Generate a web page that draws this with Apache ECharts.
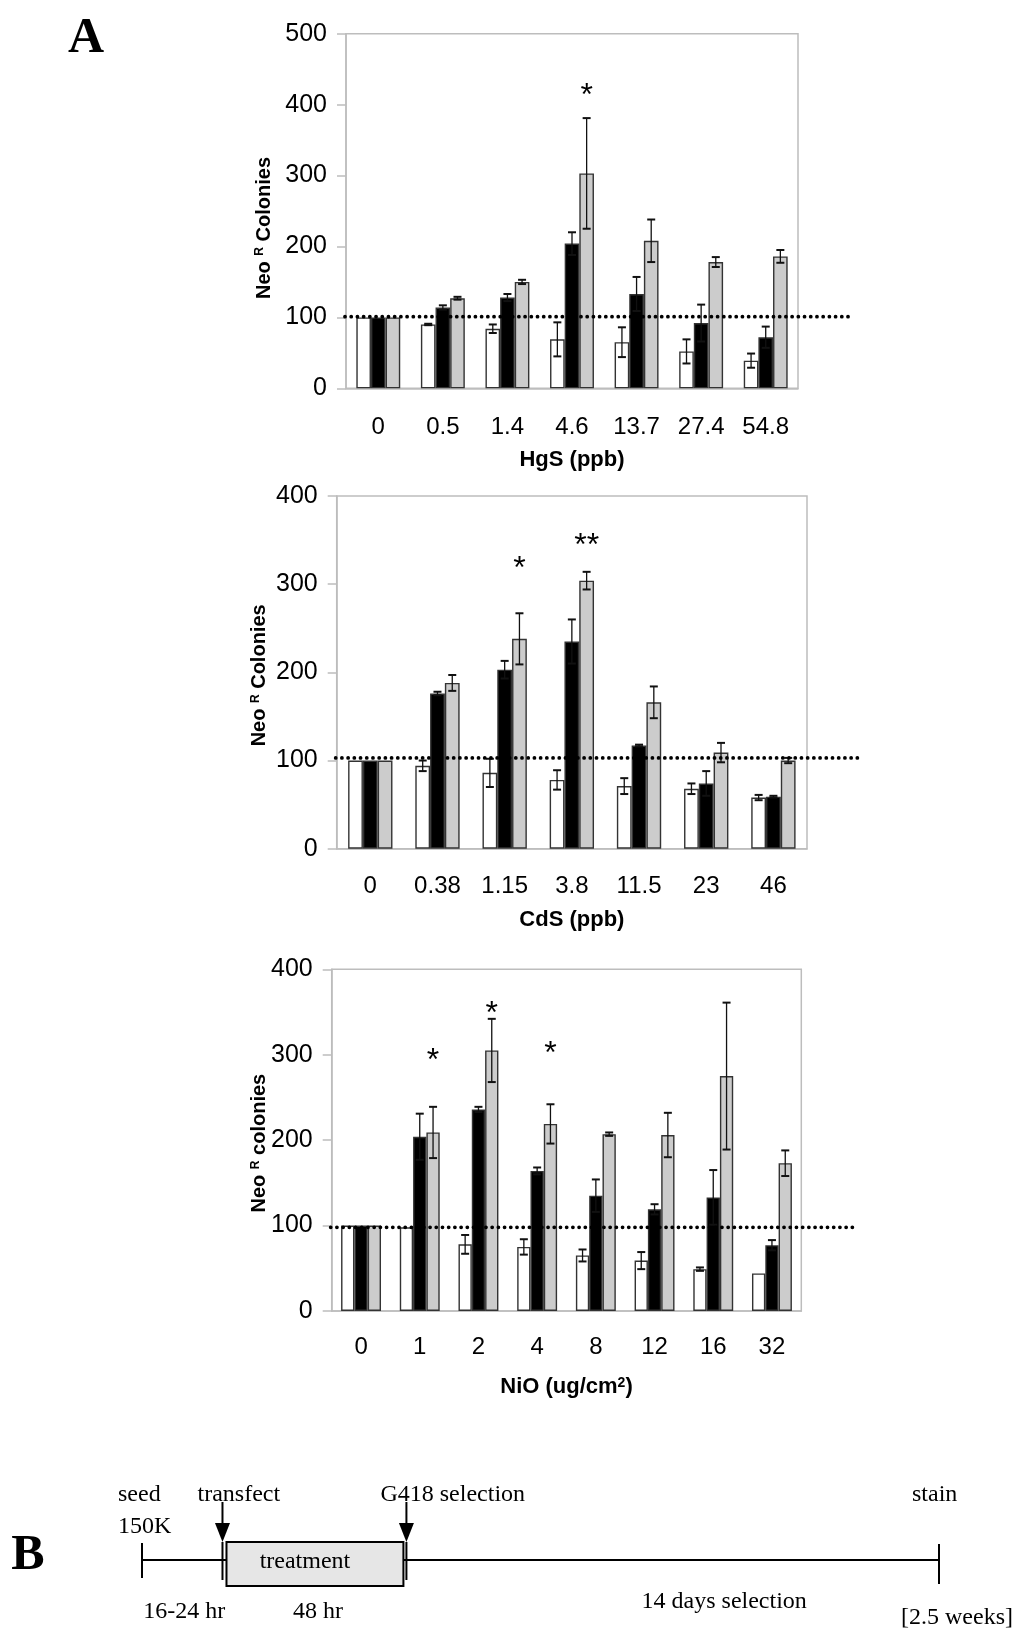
<!DOCTYPE html>
<html>
<head>
<meta charset="utf-8">
<title>NeoR colonies</title>
<script src="https://cdn.jsdelivr.net/npm/echarts@6.0.0/dist/echarts.min.js"></script>
<style>
  html, body { margin: 0; padding: 0; background: #fff; }
  #main { width: 1024px; height: 1646px; }
</style>
</head>
<body>
<div id="main"></div>
<script>
// HgS panel
var hgsCats = ['0', '0.5', '1.4', '4.6', '13.7', '27.4', '54.8'];
var hgsWhite = [100, 90, 84, 69, 65, 52, 39];
var hgsWhiteErr = [0, 1, 6, 24, 21, 17, 10];
var hgsBlack = [100, 114, 128, 204, 133, 92, 72];
var hgsBlackErr = [0, 3, 5, 16, 24, 26, 15];
var hgsGray = [100, 127, 150, 303, 208, 178, 186];
var hgsGrayErr = [0, 2, 3, 78, 30, 7, 9];
var hgsRef = 101;
var hgsStars = [[3, 420, 1]];          // [category, height, number of *]
var hgsTicks = [0, 100, 200, 300, 400, 500];

// CdS panel
var cdsCats = ['0', '0.38', '1.15', '3.8', '11.5', '23', '46'];
var cdsWhite = [100, 94, 86, 78, 71, 68, 58];
var cdsWhiteErr = [0, 6, 16, 11, 9, 6, 3];
var cdsBlack = [100, 176, 203, 235, 117, 74, 59];
var cdsBlackErr = [0, 2, 10, 25, 1, 14, 1];
var cdsGray = [100, 188, 238, 304, 166, 109, 100];
var cdsGrayErr = [0, 9, 29, 10, 18, 11, 3];
var cdsRef = 103;
var cdsStars = [[2, 324, 1], [3, 350, 2]];
var cdsTicks = [0, 100, 200, 300, 400];

// NiO panel
var nioCats = ['0', '1', '2', '4', '8', '12', '16', '32'];
var nioWhite = [100, 98, 78, 75, 65, 59, 49, 44];
var nioWhiteErr = [0, 0, 11, 9, 7, 10, 2, 0];
var nioBlack = [100, 204, 236, 164, 135, 119, 133, 77];
var nioBlackErr = [0, 27, 3, 4, 19, 6, 32, 6];
var nioGray = [100, 209, 305, 219, 207, 206, 275, 173];
var nioGrayErr = [0, 30, 37, 23, 2, 26, 86, 15];
var nioRef = 98;
var nioStars = [[1, 300, 1], [2, 355, 1], [3, 308, 1]];
var nioTicks = [0, 100, 200, 300, 400];

// timeline (panel B), positions in % of the drawn line
var timelineStops = [0, 10.6, 32.8, 100];
var stopLabels = ['seed', 'transfect', 'G418 selection', 'stain'];
var stepLabels = ['16-24 hr', '48 hr', '14 days selection'];
var seedCount = '150K';
var totalTime = '[2.5 weeks]';


var SANS = '"Liberation Sans", Arial, sans-serif';
var SERIF = '"Liberation Serif", "Times New Roman", serif';
var GRAY = '#bdbdbd';

var panels = [
    { cats: hgsCats, vals: [hgsWhite, hgsBlack, hgsGray], errs: [hgsWhiteErr, hgsBlackErr, hgsGrayErr],
      ref: hgsRef, stars: hgsStars, ticks: hgsTicks,
      grid: { left: 346, top: 33.7, width: 452, height: 354.6 }, gap: 0.32,
      xName: 'HgS (ppb)', yName: 'Neo {sup|R} Colonies',
      yGap: 72, yShift: 34, xGap: 61, labelMargin: 27 },
    { cats: cdsCats, vals: [cdsWhite, cdsBlack, cdsGray], errs: [cdsWhiteErr, cdsBlackErr, cdsGrayErr],
      ref: cdsRef, stars: cdsStars, ticks: cdsTicks,
      grid: { left: 336.7, top: 496, width: 470.3, height: 352.7 }, gap: 0.34,
      xName: 'CdS (ppb)', yName: 'Neo {sup|R} Colonies',
      yGap: 67, yShift: 6, xGap: 60, labelMargin: 26 },
    { cats: nioCats, vals: [nioWhite, nioBlack, nioGray], errs: [nioWhiteErr, nioBlackErr, nioGrayErr],
      ref: nioRef, stars: nioStars, ticks: nioTicks,
      grid: { left: 331.7, top: 969.3, width: 469.6, height: 341.7 }, gap: 0.32,
      xName: 'NiO (ug/cm{sup|2})', yName: 'Neo {sup|R} colonies',
      yGap: 62, yShift: 6, xGap: 65, labelMargin: 24 }
];

var barColors = ['#ffffff', '#000000', '#cccccc'];

// error bars: one item per bar -> [category, value, error, bar index]
function errorBars(gap) {
    return function (params, api) {
        var cat = api.value(0), v = api.value(1), e = api.value(2), k = api.value(3);
        if (!(e > 0)) return null;
        var band = api.size([1, 0])[0];
        var w = band * (1 - gap) / 3;
        var x = api.coord([cat, v])[0] + (k - 1) * w;
        var yTop = api.coord([cat, v + e])[1];
        var yBot = api.coord([cat, v - e])[1];
        var st = { stroke: '#111', lineWidth: 1.3 };
        var cap = { stroke: '#111', lineWidth: 2 };
        return {
            type: 'group',
            children: [
                { type: 'line', shape: { x1: x, y1: yTop, x2: x, y2: yBot }, style: st },
                { type: 'line', shape: { x1: x - 4, y1: yTop, x2: x + 4, y2: yTop }, style: cap },
                { type: 'line', shape: { x1: x - 4, y1: yBot, x2: x + 4, y2: yBot }, style: cap }
            ]
        };
    };
}

// dotted control line, runs a bit past the plot on the right
function refLine(params, api) {
    var cs = params.coordSys;
    var y = api.coord([0, api.value(1)])[1];
    return {
        type: 'line',
        shape: { x1: cs.x - 1, y1: y, x2: cs.x + cs.width + 52, y2: y },
        style: { stroke: '#000', lineWidth: 3.8, lineDash: [0.01, 6.2], lineCap: 'round' }
    };
}

// significance stars above the grey bar
function starMarks(gap) {
    return function (params, api) {
        var band = api.size([1, 0])[0];
        var w = band * (1 - gap) / 3;
        var pt = api.coord([api.value(0), api.value(1)]);
        var n = api.value(2);
        return {
            type: 'text',
            x: pt[0] + w,
            y: pt[1] + 6,
            style: {
                text: new Array(n + 1).join('*'),
                fontSize: 32, fontFamily: SANS, fill: '#000',
                align: 'center', verticalAlign: 'middle'
            }
        };
    };
}

function timeline(params, api) {
    var L = api.coord([0, 0.5])[1];
    var xs = timelineStops.map(function (s) { return api.coord([s, 0.5])[0]; });
    var seed = xs[0], tf = xs[1], g418 = xs[2], stain = xs[3];
    var ln = { stroke: '#000', lineWidth: 2 };
    var txt = function (t, x, y, align) {
        return { type: 'text', x: x, y: y,
            style: { text: t, fontSize: 24, fontFamily: SERIF, fill: '#000', align: align || 'left', verticalAlign: 'middle' } };
    };
    var arrow = function (x) {
        return [
            { type: 'line', shape: { x1: x, y1: L - 58, x2: x, y2: L - 36 }, style: ln },
            { type: 'polygon', shape: { points: [[x - 7.5, L - 37], [x + 7.5, L - 37], [x, L - 18]] }, style: { fill: '#000' } }
        ];
    };
    var children = [
        { type: 'line', shape: { x1: seed, y1: L, x2: stain, y2: L }, style: ln },
        { type: 'line', shape: { x1: seed, y1: L - 17, x2: seed, y2: L + 18 }, style: ln },
        { type: 'line', shape: { x1: stain, y1: L - 16, x2: stain, y2: L + 24 }, style: ln },
        { type: 'rect', shape: { x: tf, y: L - 18, width: g418 - tf, height: 44 },
          style: { fill: '#e6e6e6', stroke: '#000', lineWidth: 2 } },
        { type: 'line', shape: { x1: tf - 4, y1: L - 18, x2: tf - 4, y2: L + 20 }, style: ln },
        { type: 'line', shape: { x1: g418 + 3, y1: L - 18, x2: g418 + 3, y2: L + 20 }, style: ln },
        txt(stopLabels[0], seed - 24, L - 65),
        txt(seedCount, seed - 24, L - 33),
        txt(stopLabels[1], tf - 29, L - 65),
        txt(stopLabels[2], g418 - 23, L - 65),
        txt(stopLabels[3], stain - 27, L - 65),
        txt('treatment', (tf + g418) / 2 - 10, L + 2, 'center'),
        txt(stepLabels[0], (seed + tf) / 2, L + 52, 'center'),
        txt(stepLabels[1], (tf + g418) / 2 + 3, L + 52, 'center'),
        txt(stepLabels[2], (g418 + stain) / 2 + 53, L + 42, 'center'),
        txt(totalTime, stain - 38, L + 58)
    ];
    return { type: 'group', children: children.concat(arrow(tf - 4), arrow(g418 + 3)) };
}

var grids = [], xAxes = [], yAxes = [], series = [];

panels.forEach(function (p, i) {
    grids.push({
        left: p.grid.left, top: p.grid.top, width: p.grid.width, height: p.grid.height,
        show: true, borderColor: GRAY, borderWidth: 1.5, backgroundColor: 'transparent',
        containLabel: false, outerBoundsMode: 'none'
    });
    xAxes.push({
        type: 'category', gridIndex: i, data: p.cats,
        axisLine: { lineStyle: { color: GRAY, width: 1.5 } },
        axisTick: { length: 8, lineStyle: { color: GRAY, width: 1.5 } },
        axisLabel: { fontSize: 24, fontFamily: SANS, color: '#000', margin: p.labelMargin },
        name: p.xName, nameLocation: 'middle', nameGap: p.xGap, nameMoveOverlap: false,
        nameTextStyle: {
            fontSize: 22, fontWeight: 'bold', fontFamily: SANS, color: '#000', lineHeight: 22,
            rich: { sup: { fontSize: 14, lineHeight: 14, fontWeight: 'bold', fontFamily: SANS, color: '#000',
                           verticalAlign: 'top', padding: [0, 0, 20, 0] } }
        }
    });
    var top = p.ticks[p.ticks.length - 1];
    yAxes.push({
        type: 'value', gridIndex: i, min: p.ticks[0], max: top, interval: p.ticks[1] - p.ticks[0],
        splitLine: { show: false },
        axisLine: { show: true, lineStyle: { color: GRAY, width: 1.5 } },
        axisTick: { show: true, length: 9, lineStyle: { color: GRAY, width: 1.5 } },
        axisLabel: { fontSize: 25, fontFamily: SANS, color: '#000', margin: 19 },
        name: p.yName, nameLocation: 'middle', nameRotate: 90, nameGap: p.yGap, nameMoveOverlap: false,
        nameTextStyle: {
            fontSize: 20, fontWeight: 'bold', fontFamily: SANS, color: '#000', lineHeight: 20,
            padding: [0, p.yShift, 0, 0],
            rich: { sup: { fontSize: 12, lineHeight: 12, fontWeight: 'bold', fontFamily: SANS, color: '#000',
                           verticalAlign: 'top', padding: [0, 0, 24, 0] } }
        }
    });

    var errData = [];
    p.vals.forEach(function (vals, k) {
        series.push({
            type: 'bar', xAxisIndex: i, yAxisIndex: i, data: vals,
            barGap: '0%', barCategoryGap: (p.gap * 100) + '%',
            itemStyle: { color: barColors[k], borderColor: '#333', borderWidth: 1.4 },
            z: 2
        });
        vals.forEach(function (v, c) { errData.push([c, v, p.errs[k][c], k]); });
    });
    series.push({
        type: 'custom', xAxisIndex: i, yAxisIndex: i, data: errData,
        renderItem: errorBars(p.gap), z: 4
    });
    series.push({
        type: 'custom', xAxisIndex: i, yAxisIndex: i, data: [[0, p.ref]],
        renderItem: refLine, z: 5, clip: false
    });
    series.push({
        type: 'custom', xAxisIndex: i, yAxisIndex: i, data: p.stars,
        renderItem: starMarks(p.gap), z: 5, clip: false
    });
});

// panel B
grids.push({ left: 142, top: 1510, width: 797, height: 100, show: false, containLabel: false, outerBoundsMode: 'none' });
xAxes.push({ type: 'value', gridIndex: 3, min: 0, max: 100, show: false });
yAxes.push({ type: 'value', gridIndex: 3, min: 0, max: 1, show: false });
series.push({ type: 'custom', xAxisIndex: 3, yAxisIndex: 3, data: [[0, 0.5]], renderItem: timeline, clip: false });

var chart = echarts.init(document.getElementById('main'));
chart.setOption({
    animation: false,
    backgroundColor: '#fff',
    grid: grids,
    xAxis: xAxes,
    yAxis: yAxes,
    series: series,
    graphic: [
        { type: 'text', x: 86, y: 39, style: { text: 'A', font: 'bold 50px ' + SERIF, fill: '#000', align: 'center', verticalAlign: 'middle' } },
        { type: 'text', x: 28, y: 1556, style: { text: 'B', font: 'bold 50px ' + SERIF, fill: '#000', align: 'center', verticalAlign: 'middle' } }
    ]
});
</script>
</body>
</html>
